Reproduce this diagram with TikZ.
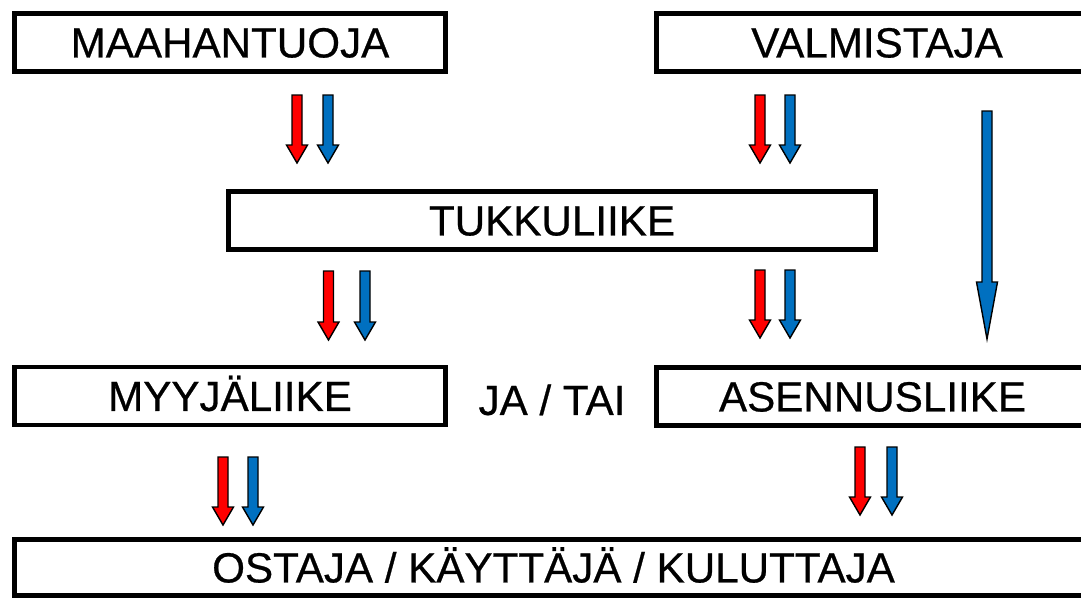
\documentclass[tikz,border=0pt]{standalone}
\usepackage{fontspec}
\setmainfont{Liberation Sans}[FakeBold=0.6]
\usepackage{tikz}
\usetikzlibrary{calc,positioning}
\definecolor{flowred}{HTML}{FF0000}
\definecolor{flowblue}{HTML}{0070C0}
\tikzstyle{box}       = [draw=black, line width=2.4pt, inner sep=0pt, text height=17pt, text depth=0pt, font=\fontsize{24}{28}\selectfont]
\tikzstyle{flow}      = [draw=black, line width=0.8pt, line join=miter]
% block arrow: colour, x, top, tip, head length
\newcommand{\flowarrow}[5]{%
  \draw[flow, fill=#1] (#2-5,#3) -- (#2+5,#3) -- (#2+5,#4-#5) -- (#2+10.5,#4-#5) -- (#2,#4) -- (#2-10.5,#4-#5) -- (#2-5,#4-#5) -- cycle;}

\begin{document}
\begin{tikzpicture}[x=0.02cm, y=-0.02cm]
		\clip (0,0) rectangle (1081,599);
		\fill[white] (0,0) rectangle (1081,599);

		\node[box, minimum width=8.62cm, minimum height=1.16cm] (maah) at (230,42.5) {MAAHANTUOJA};
		\node[box, minimum width=8.82cm, minimum height=1.16cm] (valm) at (877,42.5) {VALMISTAJA};
		\node[box, minimum width=12.94cm, minimum height=1.16cm] (tukku) at (552,220.5) {TUKKULIIKE};
		\node[box, minimum width=8.62cm, minimum height=1.16cm] (myyja) at (230,396) {MYYJÄLIIKE};
		\node[box, draw=none] (jatai) at (552,400) {JA / TAI};
		\node[box, minimum width=8.64cm, minimum height=1.16cm] (asenn) at (872.5,396.5) {ASENNUSLIIKE};
		\node[box, minimum width=21.56cm, minimum height=1.12cm] (ostaja) at (553.5,567.5) {OSTAJA / KÄYTTÄJÄ / KULUTTAJA};

		\flowarrow{flowred}{297}{95}{163}{18}
		\flowarrow{flowblue}{328}{95}{163}{18}
		\flowarrow{flowred}{760}{95}{163}{18}
		\flowarrow{flowblue}{790}{95}{163}{18}
		\flowarrow{flowblue}{987}{111}{339}{57}

		\flowarrow{flowred}{328.5}{271}{340}{18}
		\flowarrow{flowblue}{365}{271}{340}{18}
		\flowarrow{flowred}{760}{270}{338}{18}
		\flowarrow{flowblue}{790}{270}{338}{18}

		\flowarrow{flowred}{223}{457}{525}{18}
		\flowarrow{flowblue}{253}{457}{525}{18}
		\flowarrow{flowred}{860}{447}{515}{18}
		\flowarrow{flowblue}{892}{447}{515}{18}
	\end{tikzpicture}
\end{document}
